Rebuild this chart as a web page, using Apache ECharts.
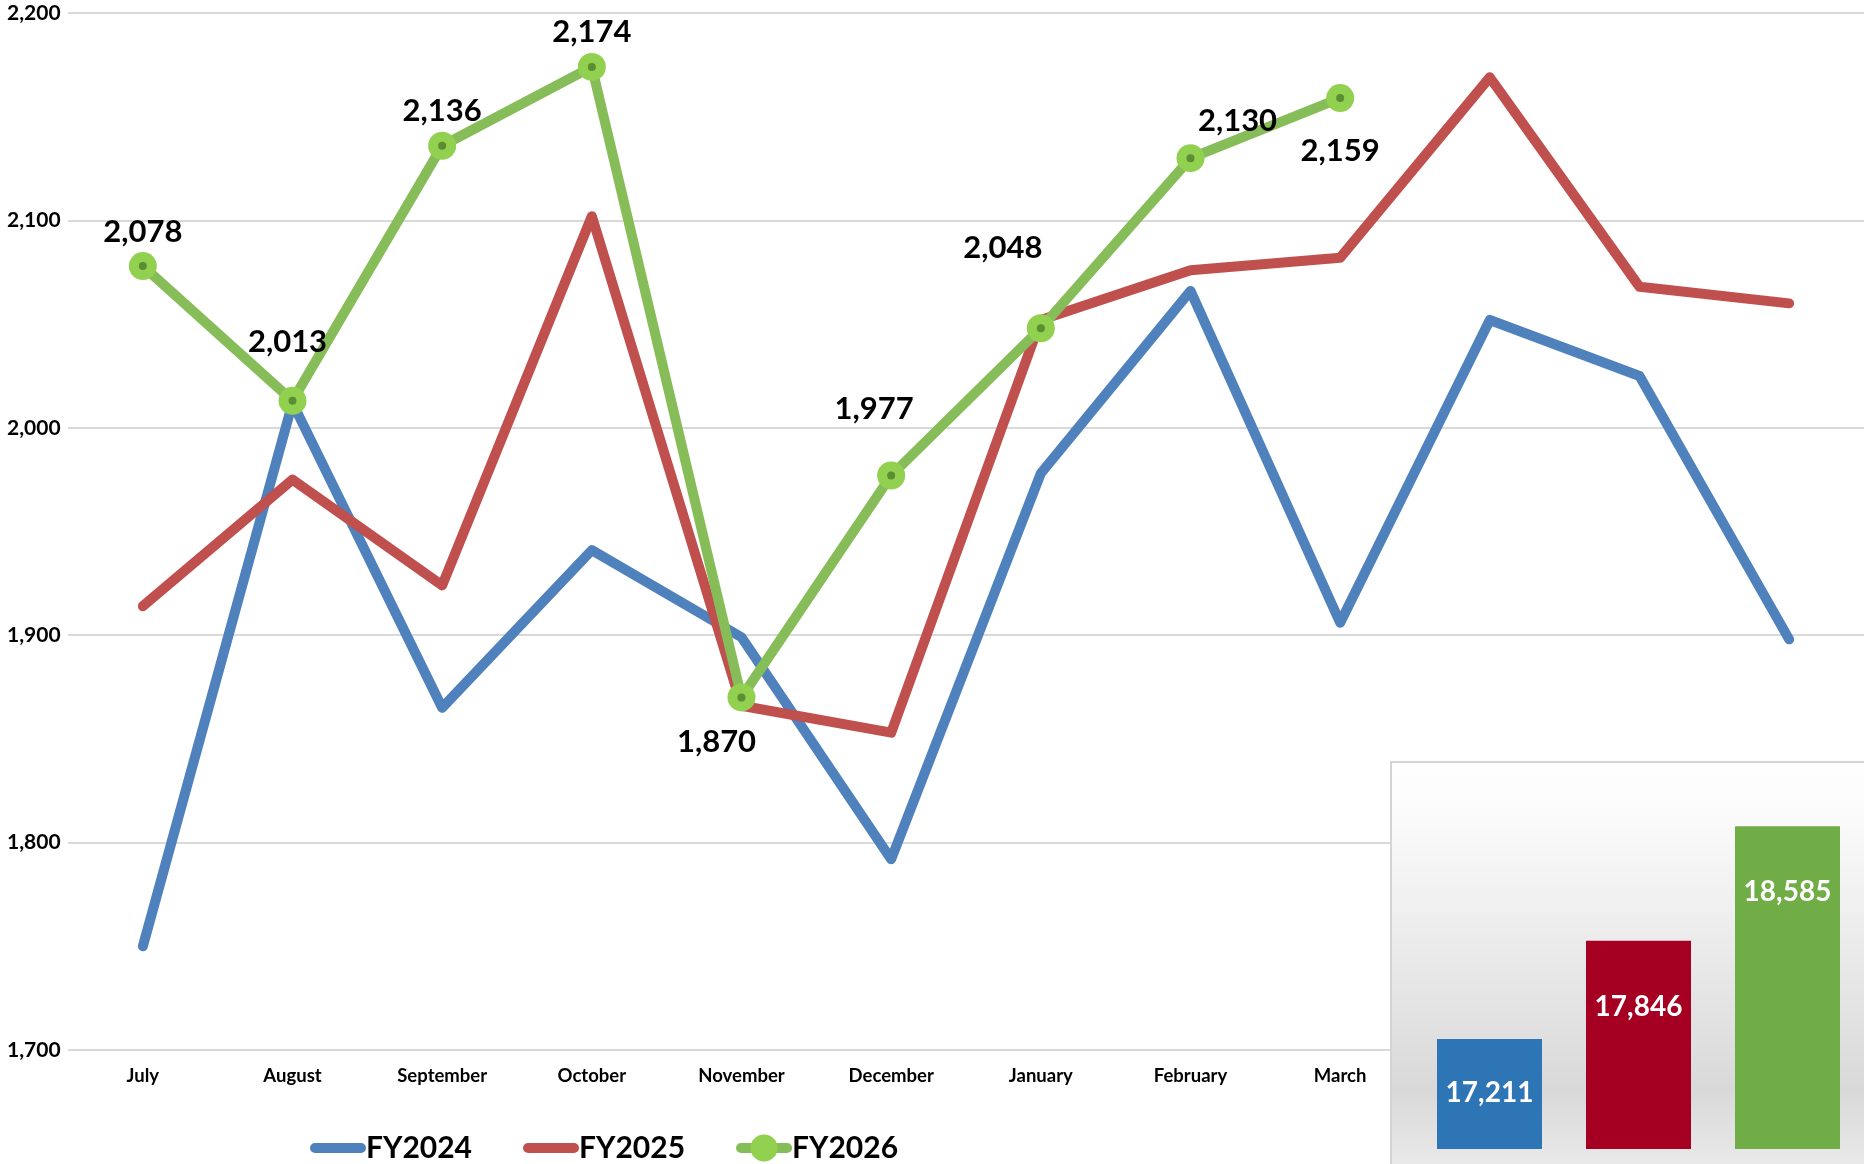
<!DOCTYPE html>
<html>
<head>
<meta charset="utf-8">
<title>FY monthly</title>
<script src="https://cdn.jsdelivr.net/npm/echarts@6/dist/echarts.min.js"></script>
<style>
    html, body { margin: 0; padding: 0; background: #fff; }
    #chart { width: 1864px; height: 1164px; }
</style>
</head>
<body>
<div id="chart"></div>
<script>
// monthly values
const months = ['July', 'August', 'September', 'October', 'November', 'December',
    'January', 'February', 'March', 'April', 'May', 'June'];
const fy2024 = [1750, 2012, 1865, 1941, 1899, 1792, 1978, 2066, 1906, 2052, 2025, 1898];
const fy2025 = [1914, 1975, 1924, 2102, 1866, 1853, 2052, 2076, 2082, 2169, 2068, 2060];
const fy2026 = [2078, 2013, 2136, 2174, 1870, 1977, 2048, 2130, 2159];

// year totals for the small panel
const totalYears = ['FY2024', 'FY2025', 'FY2026'];
const totals = [17211, 17846, 18585];

const yMin = 1700, yMax = 2200, yStep = 100;

!function () {
    const font = 'Lato, "Liberation Sans", sans-serif';
    const fmt = v => Number(v).toLocaleString('en-US');
    const barColors = ['#2e75b6', '#a50021', '#70ad47'];

    // where each FY2026 label sits relative to its point
    const labelPlace = [
        {position: 'top', offset: [0, 0]},
        {position: 'top', offset: [-5, -24]},
        {position: 'top', offset: [0, 0]},
        {position: 'top', offset: [0, 0]},
        {position: 'bottom', offset: [-25, 10]},
        {position: 'top', offset: [-17, -32]},
        {position: 'top', offset: [-38, -46]},
        {position: 'top', offset: [47, -3]},
        {position: 'bottom', offset: [0, 18]}
    ];
    const barLabelDist = [40, 52, 52];

    let chart = echarts.init(document.getElementById('chart'));
    let option = {
        animation: false,
        textStyle: {fontFamily: font},
        legend: {
            data: [
                {name: 'FY2024', itemStyle: {color: 'rgba(0,0,0,0)'}},
                {name: 'FY2025', itemStyle: {color: 'rgba(0,0,0,0)'}},
                {name: 'FY2026'}
            ],
            left: 305,
            top: 1128,
            itemWidth: 46,
            itemHeight: 34,
            itemGap: 51,
            lineStyle: {width: 10, cap: 'round'},
            textStyle: {fontSize: 30, fontWeight: 'bold', color: '#000', fontFamily: font}
        },
        graphic: [
            {
                type: 'rect',
                z: 5,
                shape: {x: 1391, y: 762, width: 480, height: 410},
                style: {
                    fill: new echarts.graphic.LinearGradient(0, 0, 0, 1, [
                        {offset: 0, color: '#ffffff'},
                        {offset: 0.15, color: '#fafafa'},
                        {offset: 0.8, color: '#d9d9d9'},
                        {offset: 1, color: '#ebebeb'}
                    ]),
                    stroke: '#d4d4d4',
                    lineWidth: 2
                }
            }
        ],
        grid: [
            {left: 68, right: 0, top: 13, bottom: 114},
            {left: 1415, width: 447, top: 762, bottom: 15}
        ],
        xAxis: [
            {
                type: 'category',
                data: months,
                gridIndex: 0,
                boundaryGap: true,
                axisLine: {show: false},
                axisTick: {show: false},
                axisLabel: {fontSize: 18.5, fontWeight: 'bold', color: '#000', margin: 17}
            },
            {
                type: 'category',
                data: totalYears,
                gridIndex: 1,
                show: false
            }
        ],
        yAxis: [
            {
                type: 'value',
                gridIndex: 0,
                min: yMin,
                max: yMax,
                interval: yStep,
                axisLine: {show: false},
                axisTick: {show: false},
                axisLabel: {
                    fontSize: 21, fontWeight: 'bold', color: '#000',
                    align: 'left', margin: 61,
                    formatter: fmt
                },
                splitLine: {lineStyle: {color: '#d9d9d9', width: 2}}
            },
            {
                type: 'value',
                gridIndex: 1,
                min: 16500,
                max: 19000,
                show: false,
                splitLine: {show: false}
            }
        ],
        series: [
            {
                name: 'FY2024',
                type: 'line',
                data: fy2024,
                symbol: 'none',
                lineStyle: {color: '#4f81bd', width: 10, cap: 'round', join: 'round'},
                itemStyle: {color: '#4f81bd'},
                z: 2
            },
            {
                name: 'FY2025',
                type: 'line',
                data: fy2025,
                symbol: 'none',
                lineStyle: {color: '#c0504d', width: 10, cap: 'round', join: 'round'},
                itemStyle: {color: '#c0504d'},
                z: 3
            },
            {
                name: 'FY2026',
                type: 'line',
                data: fy2026.map((v, i) => ({value: v, label: labelPlace[i]})),
                symbol: 'circle',
                symbolSize: 28,
                lineStyle: {color: '#86bd58', width: 10, cap: 'round', join: 'round'},
                itemStyle: {color: '#92d050'},
                label: {
                    show: true,
                    fontSize: 31,
                    fontWeight: 'bold',
                    color: '#000',
                    fontFamily: font,
                    formatter: p => fmt(p.value)
                },
                z: 4
            },
            {
                // dark centre dot of the FY2026 markers
                name: 'FY2026 dot',
                type: 'scatter',
                data: fy2026,
                symbolSize: 8,
                itemStyle: {color: '#4e7d2b'},
                silent: true,
                z: 5
            },
            {
                name: 'Total',
                type: 'bar',
                xAxisIndex: 1,
                yAxisIndex: 1,
                barWidth: 105,
                data: totals.map((v, i) => ({
                    value: v,
                    itemStyle: {color: barColors[i]},
                    label: {distance: barLabelDist[i]}
                })),
                label: {
                    show: true,
                    position: 'insideTop',
                    fontSize: 28,
                    fontWeight: 'bold',
                    color: '#fff',
                    fontFamily: font,
                    formatter: p => fmt(p.value)
                },
                z: 10
            }
        ]
    };
    chart.setOption(option);

    window.addEventListener('resize', function () {
        chart.resize();
    });
}();
</script>
</body>
</html>
